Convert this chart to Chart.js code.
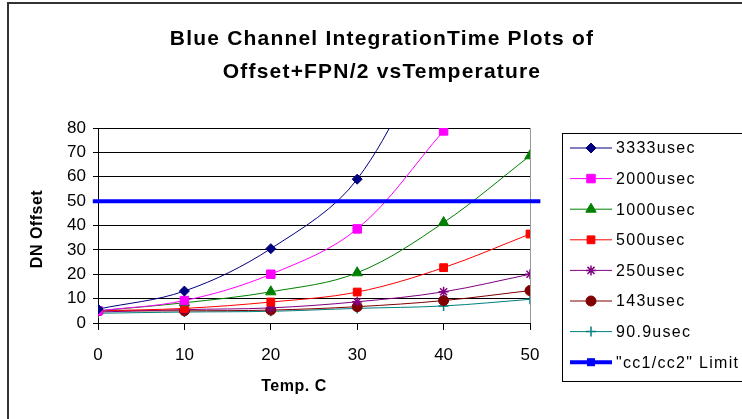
<!DOCTYPE html>
<html><head><meta charset="utf-8">
<script src="https://cdn.jsdelivr.net/npm/chart.js@4"></script>
<style>html,body{margin:0;padding:0;background:#fff}#wrap{width:742px;height:419px;position:relative}</style>
</head><body><div id="wrap"><canvas id="c" width="742" height="419"></canvas></div>
<script>
const temps = [0, 10, 20, 30, 40, 50];
const s3333 = [5.7, 13.1, 30.5, 59.0, 125, null];
const s2000 = [5.0, 9.2, 20.0, 38.6, 78.8, null];
const s1000 = [5.0, 8.3, 12.8, 20.6, 41.2, 68.6];
const s500  = [5.0, 6.0, 8.6, 12.7, 22.7, 36.5];
const s250  = [4.5, 5.5, 6.2, 8.7, 12.8, 20.0];
const s143  = [5.0, 5.0, 5.3, 6.7, 9.2, 13.3];
const s909  = [4.0, 4.5, 4.8, 6.0, 7.0, 9.7];
const limitX = [-0.6, 51.2];
const limitY = [50, 50];
const seriesNames = ['3333usec','2000usec','1000usec','500usec','250usec','143usec','90.9usec','"cc1/cc2" Limit'];
const yTicks = [0,10,20,30,40,50,60,70,80];
const titleLines = ['Blue Channel IntegrationTime Plots of', 'Offset+FPN/2 vsTemperature'];
const xTitle = 'Temp. C';
const yTitle = 'DN Offset';

const FONT = '"Liberation Sans", Arial, sans-serif';
const pts = (vals) => temps.map((t,i)=>({x:t,y:vals[i]}));

const styles = [
  {c:'#000080', p:'rectRot', r:5},
  {c:'#FF00FF', p:'rect', r:6},
  {c:'#008000', p:'triangle', r:6},
  {c:'#FF0000', p:'rect', r:5.5},
  {c:'#800080', p:'star', r:5},
  {c:'#800000', p:'circle', r:5},
  {c:'#008080', p:'cross', r:5},
];
const allVals = [s3333,s2000,s1000,s500,s250,s143,s909];
const datasets = allVals.map((v,i)=>({
  label: seriesNames[i], data: pts(v),
  borderColor: styles[i].c, backgroundColor: styles[i].c,
  borderWidth: 1, pointStyle: styles[i].p, pointRadius: styles[i].r,
  pointBorderWidth: (styles[i].p==='star'||styles[i].p==='cross')?1.5:1,
  tension: 0.35, spanGaps: false, order: 2
}));
datasets.push({
  label: seriesNames[7], data: limitX.map((x,i)=>({x, y:limitY[i]})),
  borderColor:'#0000FF', backgroundColor:'#0000FF', borderWidth:4, pointRadius:0,
  tension:0, clip:{left:10,right:15,top:0,bottom:0}, order: 1
});

const deco = {
  id:'deco',
  beforeDraw(chart){
    const ctx = chart.ctx, a = chart.chartArea;
    ctx.save();
    ctx.fillStyle='#fff'; ctx.fillRect(0,0,chart.width,chart.height);
    ctx.strokeStyle='#333'; ctx.lineWidth=2;
    ctx.strokeRect(8,3,800,500);
    ctx.strokeStyle='#999'; ctx.lineWidth=1;
    ctx.strokeRect(a.left+0.5,a.top+0.5,a.right-a.left,a.bottom-a.top);
    ctx.restore();
  },
  afterDraw(chart){
    const ctx = chart.ctx;
    ctx.save();
    ctx.fillStyle='#000';
    ctx.textAlign='center'; ctx.textBaseline='middle';
    ctx.font='bold 21px '+FONT;
    ctx.letterSpacing='1.2px';
    ctx.fillText(titleLines[0], 382, 39);
    ctx.fillText(titleLines[1], 382, 72);
    ctx.font='bold 16px '+FONT;
    ctx.letterSpacing='0.5px';
    ctx.fillText(xTitle, 294, 387);
    ctx.save(); ctx.translate(38,229); ctx.rotate(-Math.PI/2);
    ctx.fillText(yTitle, 0, 0); ctx.restore();
    // legend
    const L = 562.5, T = 133.5;
    ctx.strokeStyle='#000'; ctx.lineWidth=1;
    ctx.strokeRect(L, T, 300, 248);
    ctx.textAlign='left'; ctx.font='16px '+FONT;
    ctx.letterSpacing='1.3px';
    chart.data.datasets.forEach((ds,i)=>{
      const y = 148 + i*30.6;
      ctx.strokeStyle = ds.borderColor; ctx.lineWidth = ds.borderWidth;
      ctx.beginPath(); ctx.moveTo(570,y); ctx.lineTo(612,y); ctx.stroke();
      if (i < 7) {
        ctx.fillStyle = ds.backgroundColor; ctx.strokeStyle = ds.borderColor;
        ctx.lineWidth = ds.pointBorderWidth;
        Chart.helpers.drawPoint(ctx, {pointStyle: ds.pointStyle, radius: ds.pointRadius, rotation:0, borderWidth: ds.pointBorderWidth}, 591, y);
      } else {
        ctx.fillStyle='#0000FF'; ctx.fillRect(587,y-4,8,8);
      }
      ctx.fillStyle='#000';
      ctx.fillText(ds.label, 616, y+1);
    });
    ctx.restore();
  }
};

new Chart(document.getElementById('c'), {
  type:'line',
  data:{datasets},
  options:{
    responsive:false, animation:false, devicePixelRatio:1,
    layout:{padding:{left:60, right:212, top:128, bottom:46}},
    plugins:{legend:{display:false}, title:{display:false}, tooltip:{enabled:false}},
    scales:{
      x:{type:'linear', min:0, max:50,
        afterFit(s){ s.height = 50; },
        afterBuildTicks(s){ s.ticks = temps.map(v=>({value:v})); },
        grid:{drawOnChartArea:false, drawTicks:true, tickLength:7, tickColor:'#000', color:'#000'},
        border:{color:'#000', width:1},
        ticks:{color:'#000', font:{family:FONT, size:17}, padding:15, maxRotation:0}
      },
      y:{type:'linear', min:0, max:80,
        afterFit(s){ s.width = 38; },
        afterBuildTicks(s){ s.ticks = yTicks.map(v=>({value:v})); },
        grid:{color:'#000', lineWidth:1, drawTicks:true, tickLength:5, tickColor:'#000'},
        border:{color:'#000', width:1},
        ticks:{color:'#000', font:{family:FONT, size:17}, padding:7}
      }
    }
  },
  plugins:[deco]
});
</script></body></html>
